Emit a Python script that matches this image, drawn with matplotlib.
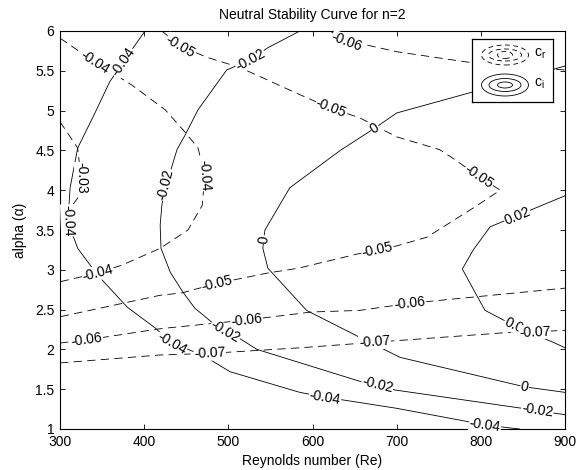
import numpy as np
import matplotlib
matplotlib.use('Agg')
import matplotlib.pyplot as plt
from matplotlib.patches import Ellipse

plt.rcParams['font.family'] = ['Liberation Sans', 'DejaVu Sans']
plt.rcParams['lines.scale_dashes'] = False

# ---------------- data ----------------
# c_i contours (solid)
ci_m004_re = [401, 375, 359, 342, 321, 312, 309.5, 314, 321, 345, 380, 413, 433, 469, 502, 585, 615, 700, 791, 805, 846]
ci_m004_al = [6.0, 5.61, 5.36, 4.98, 4.53, 4.03, 3.62, 3.47, 3.27, 2.93, 2.53, 2.27, 2.08, 1.93, 1.72, 1.46, 1.40, 1.26, 1.08, 1.05, 1.0]
ci_m004_lab = [1, 6, 12, 16, 19]

ci_m002_re = [585, 547, 526, 498, 464, 448.5, 439, 431, 425, 421, 419, 420, 431, 446, 460, 480.5, 496, 510, 534, 659, 677, 698, 849, 867, 900]
ci_m002_al = [6.0, 5.79, 5.64, 5.51, 5.01, 4.69, 4.51, 4.23, 4.07, 3.81, 3.56, 3.27, 2.97, 2.72, 2.52, 2.34, 2.22, 2.16, 2.0, 1.59, 1.55, 1.49, 1.26, 1.23, 1.18]
ci_m002_lab = [2, 8, 16, 20, 23]

ci_0_re = [900, 789, 700, 674, 633, 573, 543.5, 542, 541, 547, 593, 662, 668, 704, 852, 900]
ci_0_al = [5.56, 5.23, 4.97, 4.78, 4.5, 4.03, 3.5, 3.38, 3.27, 3.02, 2.49, 2.12, 2.09, 1.90, 1.53, 1.46]
ci_0_lab = [3, 7, 12, 14]

ci_p002_re = [900, 843, 811, 791, 778, 795, 805, 843, 888, 900]
ci_p002_al = [3.93, 3.68, 3.54, 3.25, 3.01, 2.68, 2.49, 2.28, 2.08, 2.02]
ci_p002_lab = [1, 7]

# c_r contours (dashed)
cr_m003_re = [300, 321, 325, 321, 300]
cr_m003_al = [4.86, 4.53, 4.15, 3.90, 3.60]
cr_m003_lab = [2]

cr_m004_re = [300, 341.5, 385.5, 425, 448.5, 464, 472, 469, 452, 419, 374, 345, 300]
cr_m004_al = [5.91, 5.61, 5.32, 5.01, 4.73, 4.53, 4.19, 3.81, 3.50, 3.27, 3.06, 2.96, 2.85]
cr_m004_lab = [1, 6, 11]

cr_m005_re = [421, 443, 474.5, 514, 585, 622, 656, 700, 751, 767, 798, 823, 793, 754, 736, 700, 677, 654, 583, 547, 486.5, 445, 419, 300]
cr_m005_al = [6.0, 5.81, 5.67, 5.54, 5.20, 5.03, 4.91, 4.67, 4.51, 4.40, 4.17, 4.00, 3.79, 3.53, 3.41, 3.30, 3.25, 3.20, 3.02, 2.96, 2.83, 2.71, 2.68, 2.41]
cr_m005_lab = [1, 5, 10, 16, 20]

cr_m006a_re = [621, 641, 666, 700, 783.5, 900]
cr_m006a_al = [6.0, 5.86, 5.82, 5.74, 5.61, 5.51]
cr_m006a_lab = [1]

cr_m006b_re = [300, 332, 419, 466, 522, 599, 656, 716, 900]
cr_m006b_al = [2.08, 2.12, 2.26, 2.31, 2.37, 2.47, 2.49, 2.58, 2.77]
cr_m006b_lab = [1, 4, 7]

cr_m007_re = [300, 419, 478, 585, 674, 829, 864, 900]
cr_m007_al = [1.83, 1.93, 1.95, 2.02, 2.09, 2.21, 2.22, 2.24]
cr_m007_lab = [2, 4, 6]

x_ticks = [300, 400, 500, 600, 700, 800, 900]
y_ticks = [1, 1.5, 2, 2.5, 3, 3.5, 4, 4.5, 5, 5.5, 6]

solid_sets = [
    (ci_m004_re, ci_m004_al, ci_m004_lab, '-0.04'),
    (ci_m002_re, ci_m002_al, ci_m002_lab, '-0.02'),
    (ci_0_re, ci_0_al, ci_0_lab, '0'),
    (ci_p002_re, ci_p002_al, ci_p002_lab, '0.02'),
]
dashed_sets = [
    (cr_m003_re, cr_m003_al, cr_m003_lab, '-0.03'),
    (cr_m004_re, cr_m004_al, cr_m004_lab, '-0.04'),
    (cr_m005_re, cr_m005_al, cr_m005_lab, '-0.05'),
    (cr_m006a_re, cr_m006a_al, cr_m006a_lab, '-0.06'),
    (cr_m006b_re, cr_m006b_al, cr_m006b_lab, '-0.06'),
    (cr_m007_re, cr_m007_al, cr_m007_lab, '-0.07'),
]

# ---------------- figure ----------------
W, H = 577, 470
fig = plt.figure(figsize=(W / 100, H / 100), dpi=100)
ax = fig.add_axes([60 / W, (H - 429) / H, 505 / W, 398 / H])
ax.set_xlim(300, 900)
ax.set_ylim(1, 6)

dash = (0, (6.0, 3.8))
for re, al, _, _ in solid_sets:
    ax.plot(re, al, color='black', lw=0.6, zorder=2)
for re, al, _, _ in dashed_sets:
    ax.plot(re, al, color='black', lw=0.6, linestyle=dash, zorder=2)


def draw_labels(re, al, idxs, text):
    n = len(re)
    for i in idxs:
        a = max(i - 1, 0)
        b = min(i + 1, n - 1)
        p0 = ax.transData.transform((re[a], al[a]))
        p1 = ax.transData.transform((re[b], al[b]))
        ang = np.degrees(np.arctan2(p1[1] - p0[1], p1[0] - p0[0]))
        if ang > 90:
            ang -= 180
        elif ang < -90:
            ang += 180
        ax.text(re[i], al[i], text, rotation=ang, rotation_mode='anchor',
                ha='center', va='center', fontsize=10, color='black',
                bbox=dict(fc='white', ec='none', pad=0.3), zorder=3)


for re, al, idx, t in solid_sets + dashed_sets:
    draw_labels(re, al, idx, t)

ax.set_xticks(x_ticks)
ax.set_yticks(y_ticks)
ax.set_xticklabels([f'{v:g}' for v in x_ticks])
ax.set_yticklabels([f'{v:g}' for v in y_ticks])
ax.tick_params(direction='in', top=True, right=True, length=3.5, width=0.6,
               labelsize=10, pad=4)
for s in ax.spines.values():
    s.set_linewidth(0.8)

ax.set_title('Neutral Stability Curve for n=2', fontsize=10, pad=9)
ax.set_xlabel('Reynolds number (Re)', fontsize=10, labelpad=4)
ax.set_ylabel('alpha (\u03b1)', fontsize=10, labelpad=6)

# legend box
lg = fig.add_axes([472 / W, (H - 102) / H, 81 / W, 63 / H])
lg.set_xlim(0, 81)
lg.set_ylim(0, 63)
lg.set_xticks([])
lg.set_yticks([])
lg.set_facecolor('white')
for s in lg.spines.values():
    s.set_linewidth(0.9)
lg.set_zorder(5)
for (w, h) in [(47, 20), (33, 12), (15, 7)]:
    lg.add_patch(Ellipse((33, 47), w, h, fill=False, lw=0.6, ls=(0, (3.5, 2.5))))
for (w, h) in [(47, 22), (32, 13), (15, 6)]:
    lg.add_patch(Ellipse((33, 17), w, h, fill=False, lw=0.6))
lg.text(62, 48, r'$\mathregular{c_r}$', fontsize=10, va='center', ha='left')
lg.text(62, 18, r'$\mathregular{c_i}$', fontsize=10, va='center', ha='left')

fig.savefig('out.png', dpi=100)
